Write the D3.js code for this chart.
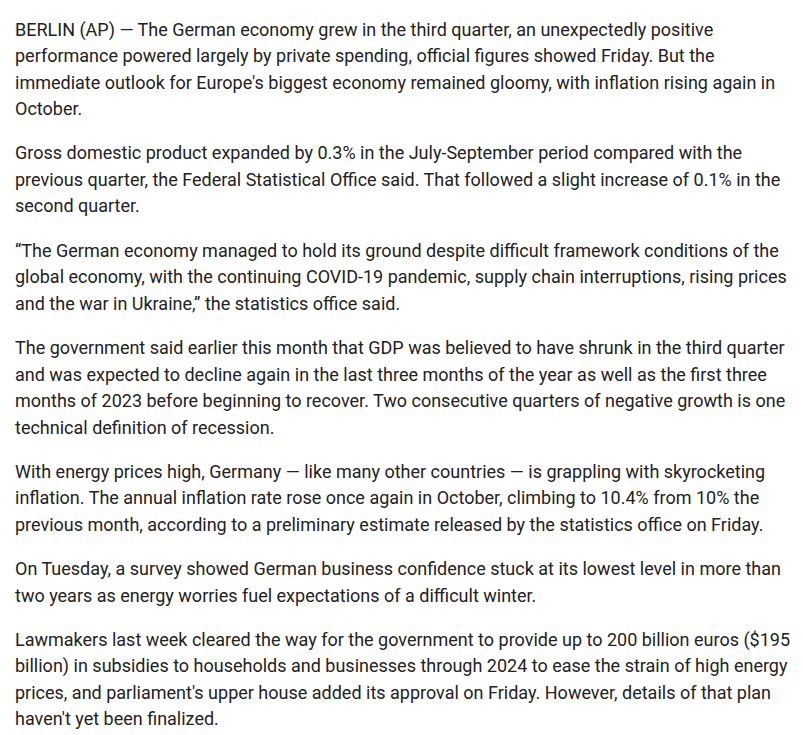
<!DOCTYPE html>
<html>
<head>
<meta charset="utf-8">
<script src="https://cdn.jsdelivr.net/npm/d3@7"></script>
<style>
  html, body { margin: 0; padding: 0; background: #fff; }
  svg text { font-family: Roboto, "Noto Sans", sans-serif; fill: #222; }
</style>
</head>
<body>
<div id="page"></div>
<script>
  // article text, one array per paragraph, one string per printed line
  var para1 = [
    "BERLIN (AP) \u2014 The German economy grew in the third quarter, an unexpectedly positive",
    "performance powered largely by private spending, official figures showed Friday. But the",
    "immediate outlook for Europe's biggest economy remained gloomy, with inflation rising again in",
    "October."
  ];
  var para2 = [
    "Gross domestic product expanded by 0.3% in the July-September period compared with the",
    "previous quarter, the Federal Statistical Office said. That followed a slight increase of 0.1% in the",
    "second quarter."
  ];
  var para3 = [
    "\u201CThe German economy managed to hold its ground despite difficult framework conditions of the",
    "global economy, with the continuing COVID-19 pandemic, supply chain interruptions, rising prices",
    "and the war in Ukraine,\u201D the statistics office said."
  ];
  var para4 = [
    "The government said earlier this month that GDP was believed to have shrunk in the third quarter",
    "and was expected to decline again in the last three months of the year as well as the first three",
    "months of 2023 before beginning to recover. Two consecutive quarters of negative growth is one",
    "technical definition of recession."
  ];
  var para5 = [
    "With energy prices high, Germany \u2014 like many other countries \u2014 is grappling with skyrocketing",
    "inflation. The annual inflation rate rose once again in October, climbing to 10.4% from 10% the",
    "previous month, according to a preliminary estimate released by the statistics office on Friday."
  ];
  var para6 = [
    "On Tuesday, a survey showed German business confidence stuck at its lowest level in more than",
    "two years as energy worries fuel expectations of a difficult winter."
  ];
  var para7 = [
    "Lawmakers last week cleared the way for the government to provide up to 200 billion euros ($195",
    "billion) in subsidies to households and businesses through 2024 to ease the strain of high energy",
    "prices, and parliament's upper house added its approval on Friday. However, details of that plan",
    "haven't yet been finalized."
  ];

  var paragraphs = [para1, para2, para3, para4, para5, para6, para7];

  var width = 803,
      height = 735,
      left = 15,
      lineH = 26.5,
      gap = 17.8,
      firstBase = 35.6;

  var svg = d3.select("#page").append("svg")
      .attr("width", width)
      .attr("height", height);

  // flatten to lines, keep paragraph + line index
  var lines = [];
  paragraphs.forEach(function(p, pi) {
    p.forEach(function(t, li) {
      lines.push({ p: pi, l: li, text: t });
    });
  });

  // lines that come before each paragraph
  var before = [];
  var n = 0;
  paragraphs.forEach(function(p) { before.push(n); n += p.length; });

  svg.selectAll("text.line")
    .data(lines)
    .enter().append("text")
      .attr("class", "line")
      .attr("x", left)
      .attr("y", function(d) {
        return firstBase + (before[d.p] + d.l) * lineH + d.p * gap;
      })
      .attr("font-size", 18)
      .text(function(d) { return d.text; });
</script>
</body>
</html>
